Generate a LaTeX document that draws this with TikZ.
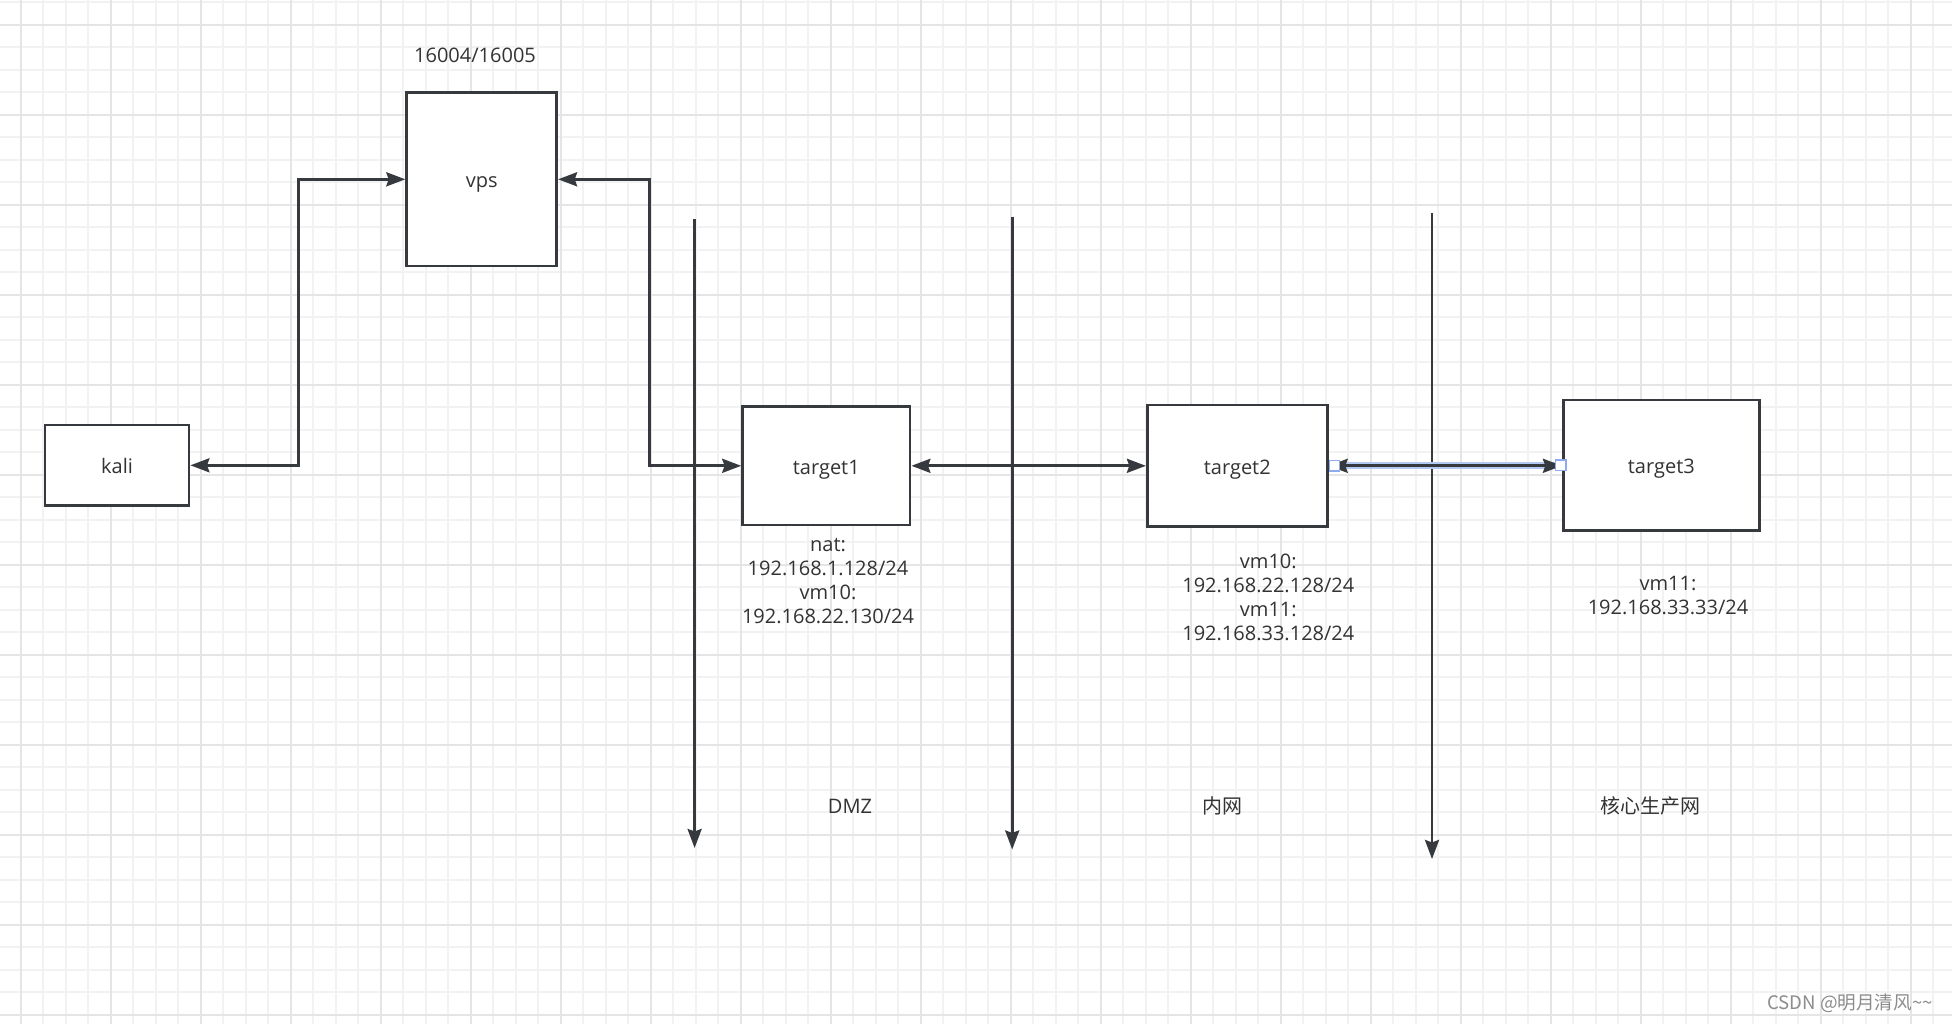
\documentclass[tikz,border=0pt]{standalone}
\usepackage{fontspec}
\setmainfont{Open Sans}
\newfontfamily\cjk{Noto Sans CJK SC}
\usetikzlibrary{arrows.meta}

\definecolor{linecol}{HTML}{36393D}
\definecolor{textcol}{HTML}{333333}
\definecolor{gridminor}{HTML}{F2F2F2}
\definecolor{gridmajor}{HTML}{E5E5E5}
\definecolor{selblue}{HTML}{B3C8F2}
\definecolor{handleblue}{HTML}{8EABF0}
\definecolor{markgray}{HTML}{8C8C8C}

\tikzset{
  hostbox/.style={draw=linecol, line width=1.4pt, fill=white, text=textcol,
    font=\fontsize{10}{12}\selectfont, inner sep=0pt, text height=8.4pt, text depth=0pt},
  addr/.style={text=textcol, align=center, font=\fontsize{10}{12}\selectfont, inner sep=0pt},
  zonelabel/.style={text=textcol, font=\fontsize{10}{12}\selectfont, inner sep=0pt},
  link/.style={draw=linecol, line width=1.4pt, >={Stealth[length=9.5pt,width=7pt,inset=1.2pt]}, <->},
  zone/.style={draw=linecol, line width=1.4pt, >={Stealth[length=9.5pt,width=7pt,inset=1.2pt]}, ->},
  handle/.style={draw=handleblue, line width=0.7pt, fill=white, minimum size=5.2pt, inner sep=0pt},
}

\begin{document}
\begin{tikzpicture}[x=0.5pt, y=-0.5pt]

% Canvas and grid
\fill[white] (0,0) rectangle (1952,1024);
\useasboundingbox (0,0) rectangle (1952,1024);
\foreach \k in {0,...,85}
  \draw[gridminor, line width=1pt] ({20.7+22.5*\k},0) -- ({20.7+22.5*\k},1024);
\foreach \k in {0,...,45}
  \draw[gridminor, line width=1pt] (0,{2+22.5*\k}) -- (1952,{2+22.5*\k});
\foreach \k in {0,...,21}
  \draw[gridmajor, line width=1pt] ({20.7+90*\k},0) -- ({20.7+90*\k},1024);
\foreach \k in {0,...,11}
  \draw[gridmajor, line width=1pt] (0,{24.5+90*\k}) -- (1952,{24.5+90*\k});

% Hosts
\node[hostbox, minimum width=72pt, minimum height=40.3pt] (kali) at (117,465.3) {kali};
\node[hostbox, minimum width=75pt, minimum height=86.7pt] (vps) at (481.7,179.3) {vps};
\node[hostbox, minimum width=83.7pt, minimum height=59.2pt] (target1) at (826.3,465.8) {target1};
\node[hostbox, minimum width=90pt, minimum height=60.8pt] (target2) at (1237.3,465.8) {target2};
\node[hostbox, minimum width=98pt, minimum height=65.3pt] (target3) at (1661.3,465.3) {target3};

% Zone boundaries
\coordinate (dmzTop) at (694.6,219.3);
\coordinate (dmzBot) at (694.6,848);
\coordinate (lanTop) at (1012.2,216.6);
\coordinate (lanBot) at (1012.2,849.5);
\coordinate (coreTop) at (1432,213);
\coordinate (coreBot) at (1432,859);
\draw[zone] (dmzTop) -- (dmzBot);
\draw[zone] (lanTop) -- (lanBot);
\draw[zone] (coreTop) -- (coreBot);

% Connectors
\coordinate (kaliBend) at (298.3,179.3);
\coordinate (vpsBend) at (649.3,179.3);
\draw[link] (kali.east) -| (kaliBend) -- (vps.west);
\draw[link] (vps.east) -- (vpsBend) |- (target1.west);
\draw[link] (target1.east) -- (target2.west);
\draw[selblue, line width=3.4pt] (target2.east) -- (target2.east -| target3.west);
\draw[link] (target2.east) -- (target2.east -| target3.west);
\node[handle] (handleA) at ([xshift=2.85pt]target2.east) {};
\node[handle] (handleB) at ([xshift=-0.6pt]target3.west) {};

% Labels
\node[zonelabel] (ports) at (475,55) {16004/16005};
\node[addr] (addr1) at (828,580.9) {nat:\\192.168.1.128/24\\vm10:\\192.168.22.130/24};
\node[addr] (addr2) at (1268.3,597.5) {vm10:\\192.168.22.128/24\\vm11:\\192.168.33.128/24};
\node[addr] (addr3) at (1668,595.8) {vm11:\\192.168.33.33/24};
\node[zonelabel] (dmz) at (850,806) {DMZ};
\node[zonelabel] (lan) at (1222.6,806) {\cjk 内网};
\node[zonelabel] (core) at (1650.7,805.5) {\cjk 核心生产网};
\node[text=markgray, font=\cjk\fontsize{9.3}{11}\selectfont, inner sep=0pt] (mark) at (1850,1003.3)
  {CSDN @明月清风\textasciitilde\textasciitilde};

\end{tikzpicture}
\end{document}
